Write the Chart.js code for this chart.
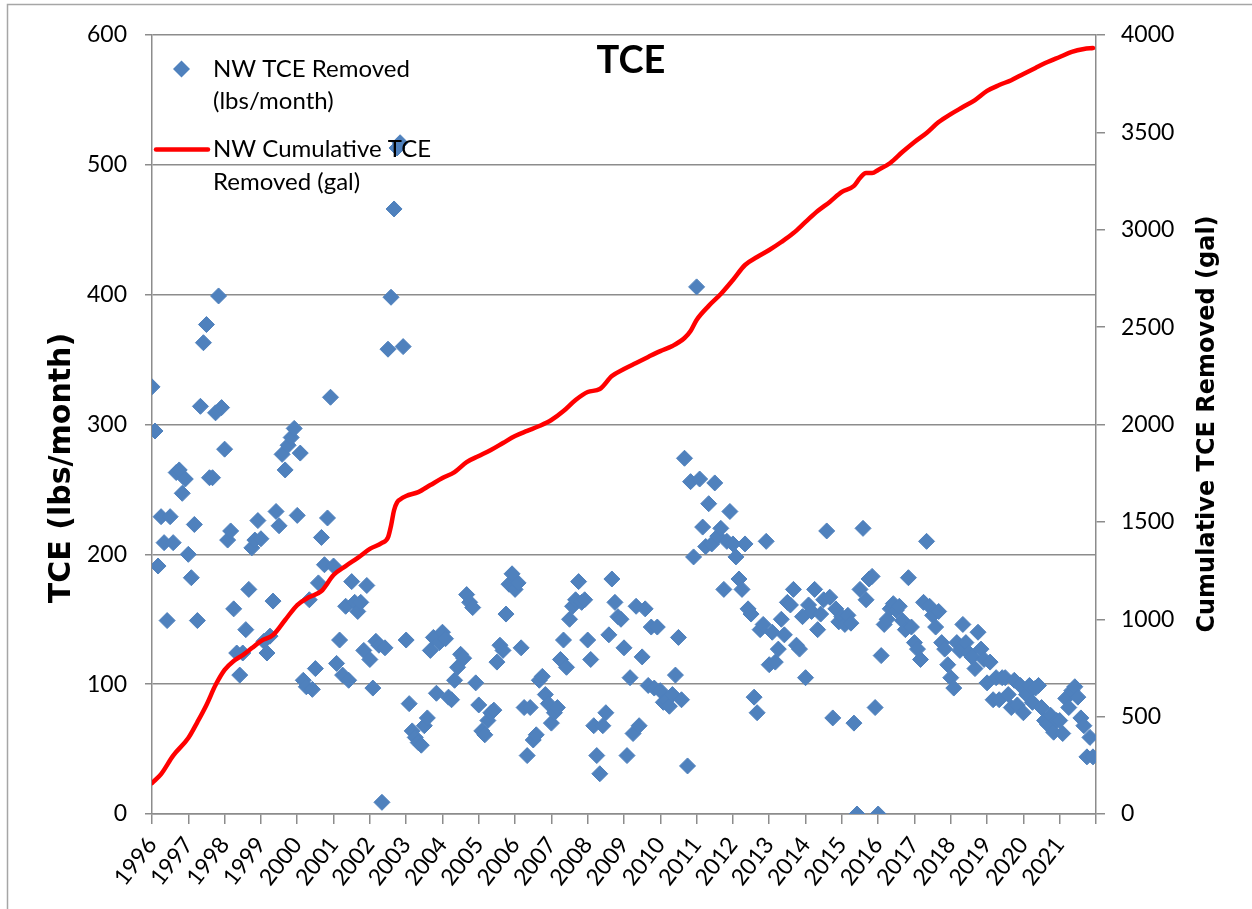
<!DOCTYPE html>
<html>
<head>
<meta charset="utf-8">
<script src="https://cdn.jsdelivr.net/npm/chart.js@4.4.0/dist/chart.umd.min.js"></script>
<style>
  html, body { margin: 0; padding: 0; background: #ffffff; }
  #wrap { position: relative; width: 1252px; height: 909px; }
  canvas { display: block; }
</style>
</head>
<body>
<div id="wrap"><canvas id="c" width="1252" height="909"></canvas></div>
<script>
// ---------- data ----------
const chartTitle = 'TCE';
const leftAxisTitle = 'TCE (lbs/month)';
const rightAxisTitle = 'Cumulative TCE Removed (gal)';
const seriesRemovedName = ['NW TCE Removed', '(lbs/month)'];
const seriesCumName = ['NW Cumulative TCE', 'Removed (gal)'];

const yearLabels = ['1996','1997','1998','1999','2000','2001','2002','2003','2004','2005','2006','2007','2008',
                    '2009','2010','2011','2012','2013','2014','2015','2016','2017','2018','2019','2020','2021'];

// monthly TCE removed (lbs/month), Jan 1996 .. Dec 2021
const removedLbs = [
  329, 295, 191, 229, 209, 149, 229, 209, 263, 265, 247, 258, // 1996
  200, 182, 223, 149, 314, 363, 377, 259, 259, 309, 399, 313, // 1997
  281, 211, 218, 158, 124, 107, 124, 142, 173, 205, 211, 226, // 1998
  212, 133, 124, 137, 164, 233, 222, 277, 265, 284, 290, 297, // 1999
  230, 278, 103,  98, 165,  96, 112, 178, 213, 192, 228, 321, // 2000
  191, 116, 134, 107, 160, 103, 179, 163, 156, 163, 126, 176, // 2001
  119,  97, 133, 130,   9, 128, 358, 398, 466, 513, 517, 360, // 2002
  134,  85,  64,  59,  55,  53,  68,  74, 126, 136,  93, 132, // 2003
  140, 135,  90,  88, 103, 113, 123, 120, 169, 163, 159, 101, // 2004
   84,  64,  61,  72,  78,  80, 117, 130, 126, 154, 177, 185, // 2005
  173, 178, 128,  82,  45,  82,  57,  61, 103, 106,  92,  85, // 2006
   70,  78,  82, 119, 134, 113, 150, 160, 165, 179, 163, 165, // 2007
  134, 119,  68,  45,  31,  68,  78, 138, 181, 163, 152, 150, // 2008
  128,  45, 105,  62, 160,  68, 121, 158,  99, 144,  97, 144, // 2009
   95,  86,  88,  83,  92, 107, 136,  88, 274,  37, 256, 198, // 2010
  406, 258, 221, 206, 239, 208, 255, 214, 220, 173, 210, 233, // 2011
  208, 198, 181, 173, 208, 158, 154,  90,  78, 142, 146, 210, // 2012
  115, 140, 117, 127, 150, 138, 163, 161, 173, 130, 127, 152, // 2013
  105, 161, 156, 173, 142, 154, 165, 218, 167,  74, 158, 148, // 2014
  152, 146, 153, 147,  70,   0, 173, 220, 165, 181, 183,  82, // 2015
    0, 122, 146, 150, 158, 162, 157, 160, 149, 142, 182, 144, // 2016
  132, 127, 119, 163, 210, 160, 153, 144, 156, 132, 127, 115, // 2017
  105,  97, 132, 126, 146, 132, 124, 121, 112, 140, 127, 119, // 2018
  101, 117,  88, 105,  88, 105, 105,  92,  82, 103,  84,  99, // 2019
   78,  92,  99,  86,  97,  99,  82,  72,  69,  76,  63,  72, // 2020
   72,  62,  89,  82,  95,  98,  90,  74,  68,  44,  59,  44  // 2021
];

// cumulative TCE removed (gal), read at these month indexes (0 = Jan 1996)
const cumMonth = [0,3,7,12,15,18,21,24,27,30,33,36,40,44,48,52,56,60,64,68,72,76,78,79,80,81,82,84,88,92,96,100,
  104,108,112,116,120,124,128,132,136,140,144,148,152,156,160,164,168,172,176,178,180,184,188,192,196,200,
  204,208,212,216,220,224,228,232,234,236,238,240,244,248,252,256,260,264,268,272,276,280,284,288,292,296,
  300,304,308,311];
const cumGal = [159,205,300,390,472,560,662,740,786,816,852,888,919,996,1073,1114,1145,1227,1273,1315,1361,1392,1420,1480,1560,1600,1615,1633,1653,1689,1725,1756,
  1807,1838,1869,1905,1941,1967,1992,2023,2069,2126,2167,2182,2249,2285,2316,2347,2377,2403,2444,2480,2537,2609,2670,2742,2819,2860,
  2896,2937,2983,3040,3096,3143,3194,3225,3266,3291,3291,3307,3343,3399,3451,3497,3553,3594,3630,3666,3713,3743,3768,3800,3831,3861,
  3887,3913,3928,3933];

// ---------- styles ----------
const BLUE = '#4F81BD';
const RED = '#FF0000';
const GRID = '#8C8C8C';
const LABEL_FONT = 'Lato';

const monthsTotal = yearLabels.length * 12;
const scatterPts = removedLbs.map((v, i) => ({ x: i, y: v }));
const linePts = cumMonth.map((m, k) => ({ x: m, y: cumGal[k] }));

const decor = {
  id: 'decor',
  beforeDraw(chart) {
    const ctx = chart.ctx;
    ctx.save();
    ctx.fillStyle = '#ffffff';
    ctx.fillRect(0, 0, chart.width, chart.height);
    ctx.restore();
  },
  afterDraw(chart) {
    const ctx = chart.ctx;
    ctx.save();
    // outer frame
    ctx.strokeStyle = '#A6A6A6';
    ctx.lineWidth = 1.5;
    ctx.strokeRect(7.5, 4.5, 1400, 1000);

    // title
    ctx.fillStyle = '#000';
    ctx.textAlign = 'center';
    ctx.textBaseline = 'alphabetic';
    ctx.font = 'bold 38px ' + LABEL_FONT;
    ctx.fillText(chartTitle, 631, 73);

    // axis titles
    ctx.font = 'bold 30px "DejaVu Sans"';
    ctx.textBaseline = 'middle';
    ctx.save();
    ctx.translate(62, 468);
    ctx.rotate(-Math.PI / 2);
    ctx.fillText(leftAxisTitle, 0, 0);
    ctx.restore();

    ctx.font = 'bold 24px "DejaVu Sans"';
    ctx.save();
    ctx.translate(1208, 424);
    ctx.rotate(-Math.PI / 2);
    ctx.fillText(rightAxisTitle, 0, 0);
    ctx.restore();

    // legend
    ctx.textAlign = 'left';
    ctx.textBaseline = 'alphabetic';
    ctx.font = '24px ' + LABEL_FONT;
    ctx.fillStyle = BLUE;
    ctx.beginPath();
    ctx.moveTo(181.5, 60.5); ctx.lineTo(190, 69); ctx.lineTo(181.5, 77.5); ctx.lineTo(173, 69);
    ctx.closePath(); ctx.fill();
    ctx.fillStyle = '#000';
    ctx.fillText(seriesRemovedName[0], 213, 77);
    ctx.fillText(seriesRemovedName[1], 213, 109);
    ctx.strokeStyle = RED;
    ctx.lineWidth = 4.5;
    ctx.lineCap = 'round';
    ctx.beginPath(); ctx.moveTo(156, 149.5); ctx.lineTo(208, 149.5); ctx.stroke();
    ctx.fillText(seriesCumName[0], 213, 157);
    ctx.fillText(seriesCumName[1], 213, 190);
    ctx.restore();
  }
};

new Chart(document.getElementById('c'), {
  data: {
    datasets: [
      {
        type: 'line',
        label: seriesCumName.join(' '),
        data: linePts,
        yAxisID: 'y2',
        borderColor: RED,
        borderWidth: 4.5,
        pointRadius: 0,
        cubicInterpolationMode: 'monotone',
        borderCapStyle: 'round',
        borderJoinStyle: 'round',
        fill: false,
        order: 0
      },
      {
        type: 'scatter',
        label: seriesRemovedName.join(' '),
        data: scatterPts,
        yAxisID: 'y',
        pointStyle: 'rectRot',
        pointRadius: 8,
        pointBorderWidth: 1,
        backgroundColor: BLUE,
        borderColor: BLUE,
        order: 1
      }
    ]
  },
  options: {
    responsive: false,
    devicePixelRatio: 1,
    animation: false,
    events: [],
    layout: { padding: { top: 35, left: 0, right: 0, bottom: 0 } },
    plugins: {
      legend: { display: false },
      tooltip: { enabled: false },
      title: { display: false }
    },
    scales: {
      x: {
        type: 'linear',
        min: 0,
        max: monthsTotal,
        afterBuildTicks: (s) => {
          s.ticks = yearLabels.map((y, k) => ({ value: k * 12 })).concat([{ value: monthsTotal }]);
        },
        afterFit: (s) => { s.height = 95; },
        ticks: {
          autoSkip: false,
          minRotation: 52,
          maxRotation: 52,
          padding: 8,
          color: '#000',
          font: { family: LABEL_FONT, size: 23 },
          callback: (v) => {
            const k = Math.round(v / 12);
            return k < yearLabels.length ? yearLabels[k] : '';
          }
        },
        grid: { display: true, drawOnChartArea: false, drawTicks: true, tickLength: 10, color: GRID, lineWidth: 1.5 },
        border: { display: true, color: GRID, width: 1.5 }
      },
      y: {
        position: 'left',
        min: 0,
        max: 600,
        afterFit: (s) => { s.width = 152; },
        ticks: { stepSize: 100, padding: 18, color: '#000', font: { family: LABEL_FONT, size: 23 },
                 callback: (v) => String(v) },
        grid: { color: GRID, lineWidth: 1.5, drawTicks: true, tickLength: 7 },
        border: { display: true, color: GRID, width: 1.5 }
      },
      y2: {
        position: 'right',
        min: 0,
        max: 4000,
        afterFit: (s) => { s.width = 156; },
        ticks: { stepSize: 500, padding: 16, color: '#000', font: { family: LABEL_FONT, size: 23 },
                 callback: (v) => String(v) },
        grid: { drawOnChartArea: false, color: GRID, lineWidth: 1.5, drawTicks: true, tickLength: 9 },
        border: { display: true, color: GRID, width: 1.5 }
      }
    }
  },
  plugins: [decor]
});
</script>
</body>
</html>
